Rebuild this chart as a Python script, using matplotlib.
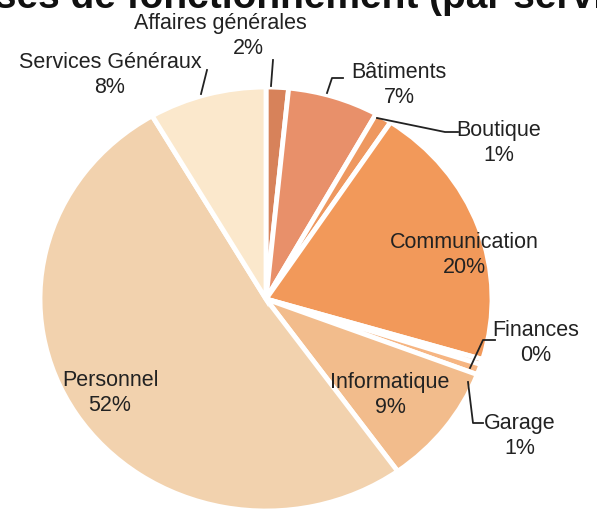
import matplotlib
matplotlib.use("Agg")
import matplotlib.pyplot as plt
from matplotlib.lines import Line2D

plt.rcParams['font.family'] = ['Liberation Sans', 'DejaVu Sans']

# Data (clockwise from top)
categories = ["Affaires générales", "Bâtiments", "Boutique", "Communication",
              "Finances", "Garage", "Informatique", "Personnel", "Services Généraux"]
values = [1.6, 6.5, 1.2, 20.3, 0.4, 0.8, 9.3, 51.5, 8.4]
pct_labels = ["2%", "7%", "1%", "20%", "0%", "1%", "9%", "52%", "8%"]
colors = ["#D7825A", "#E8906A", "#EE9860", "#F2995A", "#F5B07A",
          "#F6B582", "#F2BC8C", "#F2D2AE", "#FBE8CC"]
title = "Dépenses de fonctionnement (par service)"

W, H = 597, 518
fig = plt.figure(figsize=(W / 100, H / 100), dpi=100)

def fx(x):
    return x / W

def fy(y):
    return 1 - y / H

cx, cy, rx, ry = 266, 299, 226, 212
ax = fig.add_axes([fx(cx - rx), fy(cy + ry), 2 * rx / W, 2 * ry / H])
ax.pie(values, colors=colors, startangle=90, counterclock=False,
       wedgeprops=dict(edgecolor="white", linewidth=3.5))
ax.set_xlim(-1, 1)
ax.set_ylim(-1, 1)
ax.set_aspect("auto")
ax.axis("off")

fig.text(fx(268), fy(8), title, ha="center", va="baseline",
         fontsize=28, fontweight="bold", color="#111111")

# label positions (centre of two-line label), in pixels from top-left
label_pos = {
    "Affaires générales": (220, 33),
    "Bâtiments": (399, 85),
    "Boutique": (499, 143),
    "Communication": (464, 255),
    "Finances": (536, 343),
    "Garage": (520, 436),
    "Informatique": (390, 395),
    "Personnel": (110, 393),
    "Services Généraux": (110, 75),
}
fs = 15.5
for cat, pct in zip(categories, pct_labels):
    x, y = label_pos[cat]
    if cat == "Affaires générales":
        fig.text(fx(x), fy(23), cat, ha="center", va="center", fontsize=fs, color="#222222")
        fig.text(fx(248), fy(49), pct, ha="center", va="center", fontsize=fs, color="#222222")
    else:
        fig.text(fx(x), fy(y), cat + "\n" + pct, ha="center", va="center",
                 fontsize=fs, color="#222222", linespacing=1.2)

leaders = [
    [(207, 70), (201, 94)],
    [(273, 60), (271, 86)],
    [(327, 93), (332, 78), (343, 78)],
    [(377, 118), (445, 132), (458, 132)],
    [(470, 368), (483, 340), (495, 340)],
    [(468, 382), (473, 423), (483, 423)],
]
for pts in leaders:
    xs = [fx(p[0]) for p in pts]
    ys = [fy(p[1]) for p in pts]
    fig.add_artist(Line2D(xs, ys, color="#222222", linewidth=1.3, transform=fig.transFigure))

fig.savefig("out.png", dpi=100)
